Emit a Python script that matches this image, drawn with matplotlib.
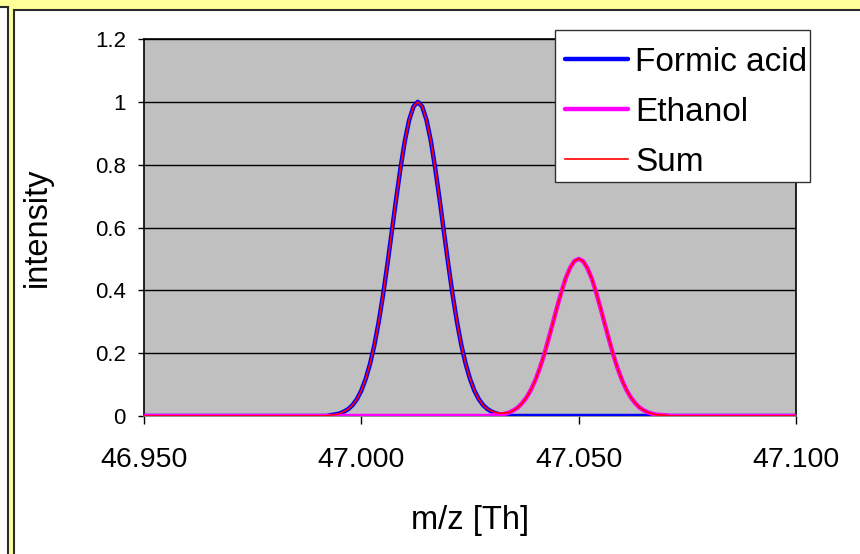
import numpy as np
import matplotlib
matplotlib.use("Agg")
import matplotlib.pyplot as plt
from matplotlib.patches import Rectangle

plt.rcParams['font.family'] = ['Liberation Sans', 'DejaVu Sans']

# sampling grid of the simulated spectra (m/z), plus the plot edges
mz_lo, mz_hi = 46.950, 47.100
mz_first, mz_step, n_pts = 46.990, 0.001, 83

formic = [0, 0, 0, .003, .005, .008, .014, .022, .035, .054,
          .081, .118, .166, .226, .300, .386, .483, .586, .690, .788,
          .875, .942, .985, 1.0, .985, .942, .875, .788, .690, .586,
          .483, .386, .300, .226, .166, .118, .081, .054, .035, .022,
          .014, .008, .005, .003, 0, 0, 0, 0, 0, 0,
          0, 0, 0, 0, 0, 0, 0, 0, 0, 0,
          0, 0, 0, 0, 0, 0, 0, 0, 0, 0,
          0, 0, 0, 0, 0, 0, 0, 0, 0, 0,
          0, 0, 0]
ethanol = [0, 0, 0, 0, 0, 0, 0, 0, 0, 0,
           0, 0, 0, 0, 0, 0, 0, 0, 0, 0,
           0, 0, 0, 0, 0, 0, 0, 0, 0, 0,
           0, 0, 0, 0, 0, 0, 0, 0, 0, 0,
           .002, .003, .004, .007, .011, .018, .027, .041, .059, .083,
           .113, .150, .193, .242, .293, .345, .394, .438, .471, .493,
           .5, .493, .471, .438, .394, .345, .293, .242, .193, .150,
           .113, .083, .059, .041, .027, .018, .011, .007, .004, .003,
           .002, 0, 0]

x_ticks = [46.95, 47.00, 47.05, 47.10]
x_labels = ['46.950', '47.000', '47.050', '47.100']
y_ticks = [0, 0.2, 0.4, 0.6, 0.8, 1.0, 1.2]
y_labels = ['0', '0.2', '0.4', '0.6', '0.8', '1', '1.2']

mz = np.concatenate([[mz_lo], mz_first + mz_step * np.arange(n_pts), [mz_hi]])
fa = np.concatenate([[0], formic, [0]])
et = np.concatenate([[0], ethanol, [0]])
total = fa + et

W, H = 860, 554
fig = plt.figure(figsize=(W / 100, H / 100), dpi=100, facecolor='#FFFF99')

# boxes in pixel coords measured from the top-left corner
def box(x0, y0, x1, y1, ec='#2b2b2b', lw=1.5, z=0):
    return Rectangle((x0 / W, 1 - y1 / H), (x1 - x0) / W, (y1 - y0) / H,
                     transform=fig.transFigure, facecolor='white',
                     edgecolor=ec, linewidth=lw, zorder=z, clip_on=False)

fig.add_artist(box(-10, 7, 7.5, 570, z=-1))
fig.add_artist(box(13.5, 10, 880, 570, z=-1))

ax = fig.add_axes([144 / W, 1 - 416 / H, (796 - 144) / W, (416 - 39) / H])
ax.set_facecolor('#C0C0C0')

ax.plot(mz, fa, color='#0000FF', lw=3.2, label='Formic acid', solid_capstyle='round', zorder=3)
ax.plot(mz, et, color='#FF00FF', lw=3.2, label='Ethanol', solid_capstyle='round', zorder=4)
ax.plot(mz, total, color='#FF0000', lw=1.2, label='Sum', zorder=5)

ax.set_xlim(mz_lo, mz_hi)
ax.set_ylim(0, 1.2)
ax.set_xticks(x_ticks)
ax.set_xticklabels(x_labels, fontsize=20.5)
ax.set_yticks(y_ticks)
ax.set_yticklabels(y_labels, fontsize=16)
ax.tick_params(axis='x', direction='out', length=6, width=1, pad=16)
ax.tick_params(axis='y', direction='out', length=4, width=1, pad=9)
ax.yaxis.grid(True, color='black', lw=1)
ax.set_axisbelow(True)
for s in ax.spines.values():
    s.set_color('black')
    s.set_linewidth(1.2)
ax.spines['bottom'].set_color('#808080')

ax.set_xlabel('m/z [Th]', fontsize=23.5, labelpad=23)
ax.set_ylabel('intensity', fontsize=23.5, labelpad=30)

# legend frame drawn by hand so that its size matches the original
ax.add_patch(box(555, 30, 810, 182, ec='#333333', lw=1, z=8))
leg = ax.legend(loc='upper left', bbox_to_anchor=((555 - 144) / 652, (416 - 37) / 377),
                fontsize=24, frameon=False, handlelength=1.9, handletextpad=0.2,
                labelspacing=0.57, borderpad=0.3, borderaxespad=0)
leg.set_zorder(10)

fig.savefig('out.png', dpi=100, facecolor=fig.get_facecolor())
